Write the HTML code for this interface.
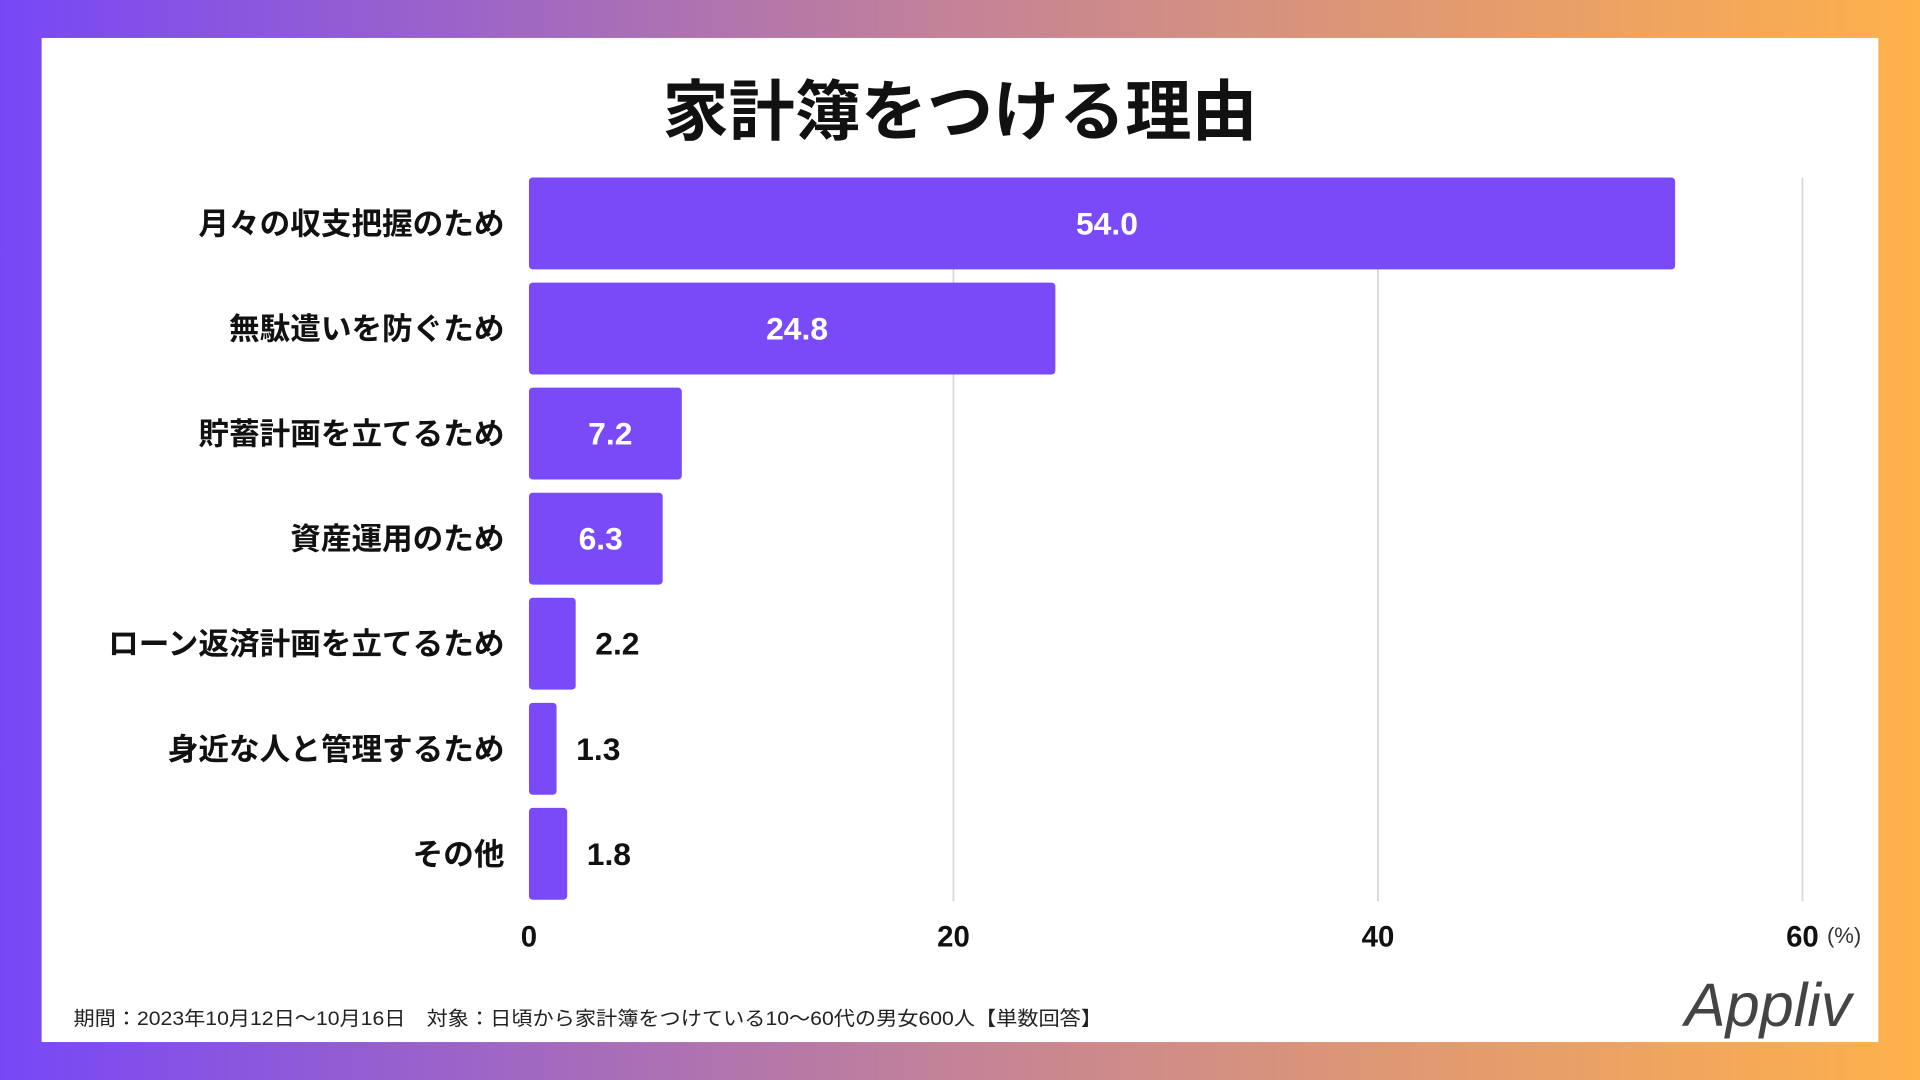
<!DOCTYPE html>
<html><head><meta charset="utf-8"><style>
html,body{margin:0;padding:0;width:1920px;height:1080px;overflow:hidden}
svg{display:block}
text{font-family:"Liberation Sans","Noto Sans CJK JP",sans-serif}
</style></head><body>
<svg id="chart" width="1920" height="1080" viewBox="0 0 1568 882" xmlns="http://www.w3.org/2000/svg">
<defs><linearGradient id="bg" x1="0" x2="1" y1="0" y2="0"><stop offset="0" stop-color="#7747f7"/><stop offset="0.5" stop-color="#c48396"/><stop offset="1" stop-color="#ffb14a"/></linearGradient></defs>
<rect x="0" y="0" width="1568" height="882" fill="url(#bg)"/>
<rect x="34" y="31" width="1500" height="820" fill="#fff"/>
<text x="784" y="110" text-anchor="middle" font-size="54" font-weight="bold" fill="#111">家計簿をつける理由</text>
<g id="grid"></g><g id="bars"></g><g id="ticks"></g>
<text x="1492" y="770" font-size="18" fill="#333">(%)</text>
<text x="60" y="837" font-size="16" fill="#222" textLength="840" lengthAdjust="spacingAndGlyphs">期間：2023年10月12日〜10月16日　対象：日頃から家計簿をつけている10〜60代の男女600人【単数回答】</text>
<text x="1444" y="838" text-anchor="middle" font-size="50" font-style="italic" font-family="Liberation Serif,serif" fill="#444">Appliv</text>
</svg>
<script>
const categories=["月々の収支把握のため","無駄遣いを防ぐため","貯蓄計画を立てるため","資産運用のため","ローン返済計画を立てるため","身近な人と管理するため","その他"];
const values=[54.0,24.8,7.2,6.3,2.2,1.3,1.8];
const tickValues=[0,20,40,60];
const NS="http://www.w3.org/2000/svg";
const x=v=>432+v*(1040/60);
const y=i=>145+i*85.8;
const bh=75;
function mk(tag,attrs,parent,txt){const e=document.createElementNS(NS,tag);for(const k in attrs)e.setAttribute(k,attrs[k]);if(txt!=null)e.textContent=txt;parent.appendChild(e);return e;}
const grid=document.getElementById('grid'),bars=document.getElementById('bars'),ticks=document.getElementById('ticks');
tickValues.forEach(t=>{
  if(t>0){const l=mk('line',{x1:x(t),x2:x(t),y1:145,y2:736,stroke:'#d9d9d9','stroke-width':1.5},grid);
  
  }
  const tx=mk('text',{x:x(t),y:773,'text-anchor':'middle','font-size':24,'font-weight':'bold',fill:'#111'},ticks,String(t));
  
  
});
categories.forEach((c,i)=>{
  const v=values[i];
  const r=mk('rect',{x:x(0),y:y(i),width:x(v)-x(0),height:bh,rx:3,fill:'#7a4af9'},bars);
  
  
  const lb=mk('text',{x:412,y:y(i)+bh/2+9,'text-anchor':'end','font-size':25,'font-weight':'bold',fill:'#111'},bars,c);
  
  
  const w=x(v)-x(0);const inside=w>90;
  const vt=mk('text',{x:inside?x(0)+w/2+4:x(v)+16,y:y(i)+bh/2+9,'text-anchor':inside?'middle':'start','font-size':26,'font-weight':'bold',fill:inside?'#fff':'#111'},bars,v.toFixed(1));
  
  
});
</script>
</body></html>
